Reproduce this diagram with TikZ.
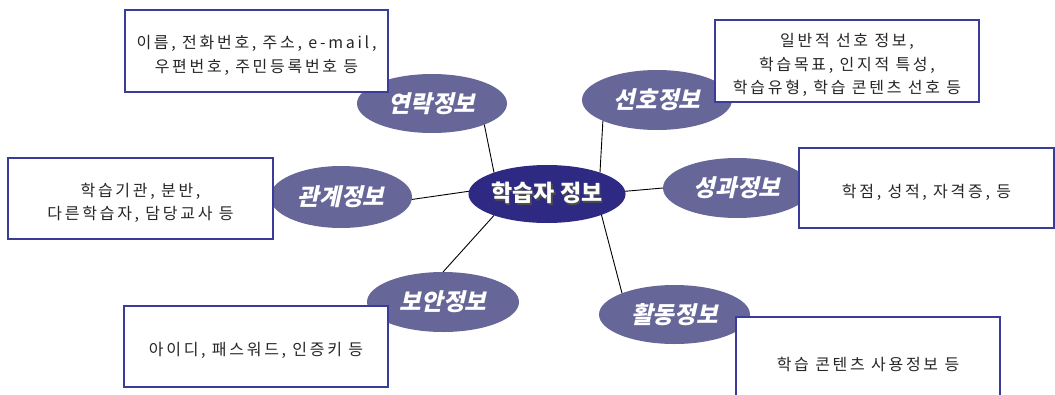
\documentclass[tikz,border=0pt]{standalone}
\usepackage{fontspec}
\setmainfont{Noto Sans CJK KR}
\newfontfamily\boxfont[LetterSpace=17]{Noto Sans CJK KR}
\newfontfamily\ovalfont[FakeSlant=0.22]{Noto Sans CJK KR}
\usetikzlibrary{shapes.geometric}
\definecolor{oval}{HTML}{666699}
\definecolor{hub}{HTML}{2E2A84}
\definecolor{boxline}{HTML}{3B3B9A}
\newcommand{\shadowtext}[1]{\rlap{\kern1.5pt\raisebox{-1.5pt}{\color{black!70}#1}}#1}
\newcommand{\topstrut}{\rule{0pt}{22pt}}
\begin{document}
\begin{tikzpicture}[x=1pt,y=-1pt,
  topic/.style={ellipse, fill=oval, draw=none, inner sep=0pt, outer sep=0pt,
    text=white, font=\ovalfont\bfseries\fontsize{23.5}{26}\selectfont},
  hubnode/.style={ellipse, fill=hub, draw=none, inner sep=0pt, outer sep=0pt,
    minimum width=150pt, minimum height=58pt, text=white,
    font=\bfseries\fontsize{23}{26}\selectfont},
  infobox/.style={rectangle, draw=boxline, line width=1.3pt, fill=white,
    align=center, inner sep=0pt, text=black!85,
    font=\boxfont\fontsize{16}{23.5}\selectfont},
  link/.style={draw=black, line width=0.9pt}]
\useasboundingbox (0,0) rectangle (1055,394);
\clip (0,0) rectangle (1055,394);

% central node and topics
\node[hubnode] (hub) at (547,194) {\shadowtext{학습자 정보}};
\node[topic, minimum width=150pt, minimum height=59pt] (contact) at (432,103.5) {연락정보};
\node[topic, minimum width=150pt, minimum height=60pt] (pref) at (657,100) {선호정보};
\node[topic, minimum width=142pt, minimum height=62pt] (rel) at (341,197) {관계정보};
\node[topic, minimum width=148pt, minimum height=60pt] (perf) at (737,188) {성과정보};
\node[topic, minimum width=152pt, minimum height=60pt] (sec) at (443,302) {보안정보};
\node[topic, minimum width=151pt, minimum height=59pt] (act) at (674.5,314.5) {활동정보};

% connectors
\draw[link] (contact.-22) -- (hub.158);
\draw[link] (pref.-159) -- (hub.22);
\draw[link] (rel.-2) -- (hub.178);
\draw[link] (perf.180) -- (hub.2);
\draw[link] (sec.90) -- (hub.-158);
\draw[link] (act.158) -- (hub.-21);

% info boxes
\node[infobox, minimum width=263pt, minimum height=82pt] (b1) at (256.5,51)
  {\topstrut 이름, 전화번호, 주소, e-mail,\\우편번호, 주민등록번호 등};
\node[infobox, minimum width=264pt, minimum height=82pt] (b2) at (847,61)
  {\topstrut 일반적 선호 정보,\\학습목표, 인지적 특성,\\학습유형, 학습 콘텐츠 선호 등};
\node[infobox, minimum width=265pt, minimum height=81pt] (b3) at (140.5,198.5)
  {\topstrut 학습기관, 분반,\\다른학습자, 담당교사 등};
\node[infobox, minimum width=255pt, minimum height=80pt] (b4) at (926.5,188)
  {\topstrut 학점, 성적, 자격증, 등};
\node[infobox, minimum width=264pt, minimum height=81pt] (b5) at (256,346.5)
  {\topstrut 아이디, 패스워드, 인증키 등};
\node[infobox, minimum width=264pt, minimum height=86pt] (b6) at (868,360)
  {\topstrut 학습 콘텐츠 사용정보 등};
\end{tikzpicture}
\end{document}
